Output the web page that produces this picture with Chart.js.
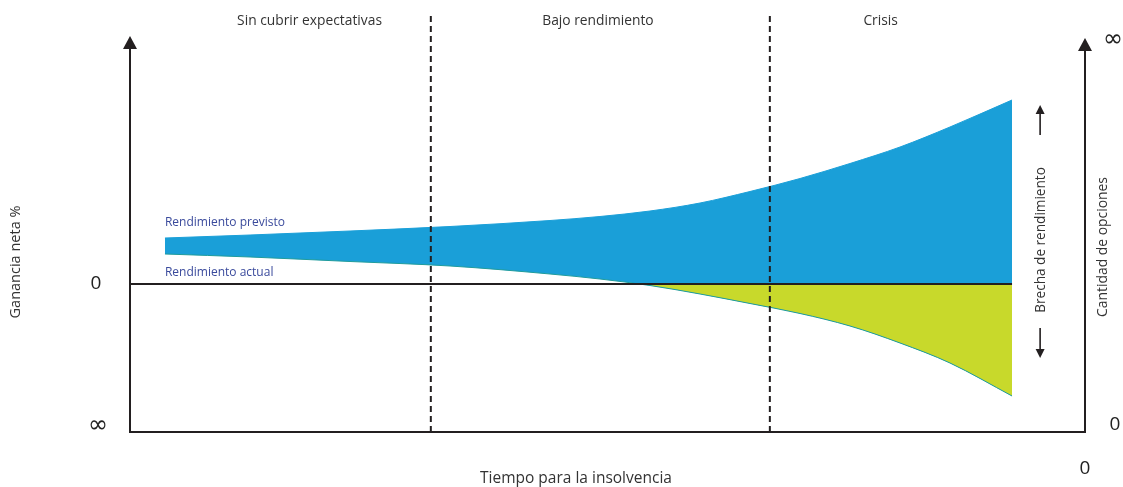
<!DOCTYPE html>
<html lang="es">
<head>
<meta charset="utf-8">
<title>Brecha de rendimiento</title>
<script src="https://cdn.jsdelivr.net/npm/chart.js@4/dist/chart.umd.min.js"></script>
<style>
  html, body { margin: 0; padding: 0; background: #ffffff; }
  #wrap { width: 1123px; height: 487px; }
</style>
</head>
<body>
<div id="wrap"><canvas id="chart" width="1123" height="487"></canvas></div>
<script>
// Time to insolvency (0..100) and net gain (arbitrary units, 0 = break-even)
const timeSteps      = [3.66, 12.57, 23.04, 33.51, 43.98, 49.21, 54.45, 59.69, 64.92, 70.16, 75.39, 80.63, 85.86, 92.36];
const expectedReturn = [23.0, 24.5, 26.5, 28.75, 31.75, 33.75, 36.5, 40.5, 46.25, 52.75, 60.25, 68.5, 78.5, 92.0];
const actualReturn   = [15.0, 13.5, 11.25, 9.0, 5.0, 2.5, -0.75, -5.0, -9.75, -14.75, -21.0, -29.5, -39.5, -56.0];

// Phase boundaries and phase names along the time axis
const phaseBounds   = [31.5, 67.0];
const phaseNames    = ['Sin cubrir expectativas', 'Bajo rendimiento', 'Crisis'];
const phaseCenters  = [18.8, 49.0, 78.6];

// Axis end labels
const leftAxisLabels  = ['0', '∞'];   // break-even, bottom
const rightAxisLabels = ['∞', '0'];   // top, bottom
const xAxisEndLabel   = '0';

const Y_MIN = -74, Y_MAX = 137, X_MIN = 0, X_MAX = 100;

const BLUE = '#1a9fd8';
const LIME = '#c8d92b';
const TEAL = '#1f9b9c';
const INK  = '#231f20';
const LABEL_BLUE = '#3a4a9c';
const FONT = '"Open Sans", "Noto Sans", sans-serif';

const pts = (xs, ys) => xs.map((x, i) => ({ x, y: ys[i] }));
const zeroLine = [{ x: X_MIN, y: 0 }, { x: timeSteps[timeSteps.length - 1], y: 0 }];
const dividerTop = 134.5;

const datasets = [
  {
    label: 'Rendimiento actual',
    data: pts(timeSteps, actualReturn),
    borderColor: TEAL,
    borderWidth: 1,
    pointRadius: 0,
    cubicInterpolationMode: 'monotone',
    fill: { target: { value: 0 }, above: 'rgba(0,0,0,0)', below: LIME },
    order: 2
  },
  {
    label: 'Rendimiento previsto',
    data: pts(timeSteps, expectedReturn),
    borderColor: BLUE,
    borderWidth: 1,
    pointRadius: 0,
    cubicInterpolationMode: 'monotone',
    backgroundColor: BLUE,
    fill: 0,
    order: 3
  },
  {
    label: 'cero',
    data: zeroLine,
    borderColor: INK,
    borderWidth: 2,
    pointRadius: 0,
    fill: false,
    order: 1
  }
];
phaseBounds.forEach((b, i) => {
  datasets.push({
    label: 'fase ' + (i + 1),
    data: [{ x: b, y: Y_MIN }, { x: b, y: dividerTop }],
    borderColor: INK,
    borderWidth: 2,
    borderDash: [6, 4],
    pointRadius: 0,
    fill: false,
    order: 0
  });
});

function arrowHead(ctx, x, tipY, dir, halfW, h) {
  ctx.beginPath();
  ctx.moveTo(x, tipY);
  ctx.lineTo(x - halfW, tipY + dir * h);
  ctx.lineTo(x + halfW, tipY + dir * h);
  ctx.closePath();
  ctx.fill();
}

const decorations = {
  id: 'decorations',
  afterDatasetsDraw(chart) {
    const { ctx, chartArea, scales } = chart;
    const xs = scales.x, ys = scales.y;
    const left = chartArea.left, right = chartArea.right;
    const bottom = ys.getPixelForValue(Y_MIN);
    const zeroY = ys.getPixelForValue(0);
    ctx.save();
    ctx.strokeStyle = INK;
    ctx.fillStyle = INK;
    ctx.lineWidth = 2;
    ctx.lineCap = 'butt';

    // Left and right vertical axes with arrow heads, bottom axis
    const leftTip = ys.getPixelForValue(124);
    const rightTip = ys.getPixelForValue(123);
    ctx.beginPath();
    ctx.moveTo(left, bottom);
    ctx.lineTo(left, leftTip + 10);
    ctx.moveTo(left - 1, bottom);
    ctx.lineTo(right + 1, bottom);
    ctx.moveTo(right, bottom);
    ctx.lineTo(right, rightTip + 10);
    ctx.stroke();
    arrowHead(ctx, left, leftTip, 1, 7, 13);
    arrowHead(ctx, right, rightTip, 1, 7, 13);

    // Gap arrows beside the widening band
    const gx = xs.getPixelForValue(95.3);
    const upTip = ys.getPixelForValue(89.5), upEnd = ys.getPixelForValue(74.5);
    const dnTip = ys.getPixelForValue(-37), dnEnd = ys.getPixelForValue(-22);
    ctx.lineWidth = 1.6;
    ctx.beginPath();
    ctx.moveTo(gx, upEnd); ctx.lineTo(gx, upTip + 6);
    ctx.moveTo(gx, dnEnd); ctx.lineTo(gx, dnTip - 6);
    ctx.stroke();
    arrowHead(ctx, gx, upTip, 1, 4.5, 9);
    arrowHead(ctx, gx, dnTip, -1, 4.5, 9);

    // Phase names
    ctx.fillStyle = '#333333';
    ctx.font = '13.8px ' + FONT;
    ctx.textAlign = 'center';
    ctx.textBaseline = 'middle';
    phaseNames.forEach((n, i) => ctx.fillText(n, xs.getPixelForValue(phaseCenters[i]), 21));

    // Series labels
    ctx.fillStyle = LABEL_BLUE;
    ctx.font = '12px ' + FONT;
    ctx.textAlign = 'left';
    const x0 = xs.getPixelForValue(timeSteps[0]);
    ctx.fillText('Rendimiento previsto', x0, ys.getPixelForValue(30.5));
    ctx.fillText('Rendimiento actual', x0, ys.getPixelForValue(5.5));

    // Axis end labels
    ctx.fillStyle = '#222222';
    ctx.textAlign = 'center';
    ctx.font = '19px ' + FONT;
    ctx.fillText(leftAxisLabels[0], left - 34, zeroY);
    ctx.font = '24px "DejaVu Sans", sans-serif';
    ctx.fillText(leftAxisLabels[1], left - 32, bottom - 6);
    ctx.fillText(rightAxisLabels[0], right + 28, ys.getPixelForValue(122));
    ctx.font = '19px ' + FONT;
    ctx.fillText(rightAxisLabels[1], right + 30, bottom - 7);
    ctx.fillText(xAxisEndLabel, right, bottom + 37);

    // Axis titles
    ctx.fillStyle = '#333333';
    ctx.font = '15.5px ' + FONT;
    ctx.fillText('Tiempo para la insolvencia', xs.getPixelForValue(46.7), bottom + 47);

    const vText = (t, x, y) => {
      ctx.save();
      ctx.translate(x, y);
      ctx.rotate(-Math.PI / 2);
      ctx.fillText(t, 0, 0);
      ctx.restore();
    };
    ctx.font = '14.5px ' + FONT;
    vText('Ganancia neta %', 16, ys.getPixelForValue(11));
    ctx.font = '13.9px ' + FONT;
    vText('Cantidad de opciones', right + 18, ys.getPixelForValue(18.5));
    ctx.font = '13.6px ' + FONT;
    vText('Brecha de rendimiento', xs.getPixelForValue(95.4), ys.getPixelForValue(22));
    ctx.restore();
  }
};

new Chart(document.getElementById('chart'), {
  type: 'line',
  data: { datasets },
  options: {
    responsive: false,
    animation: false,
    layout: { padding: { left: 130, right: 38, top: 10, bottom: 55 } },
    scales: {
      x: { type: 'linear', min: X_MIN, max: X_MAX, display: false },
      y: { type: 'linear', min: Y_MIN, max: Y_MAX, display: false }
    },
    plugins: {
      legend: { display: false },
      tooltip: { enabled: false },
      filler: { propagate: false }
    }
  },
  plugins: [decorations]
});
</script>
</body>
</html>
